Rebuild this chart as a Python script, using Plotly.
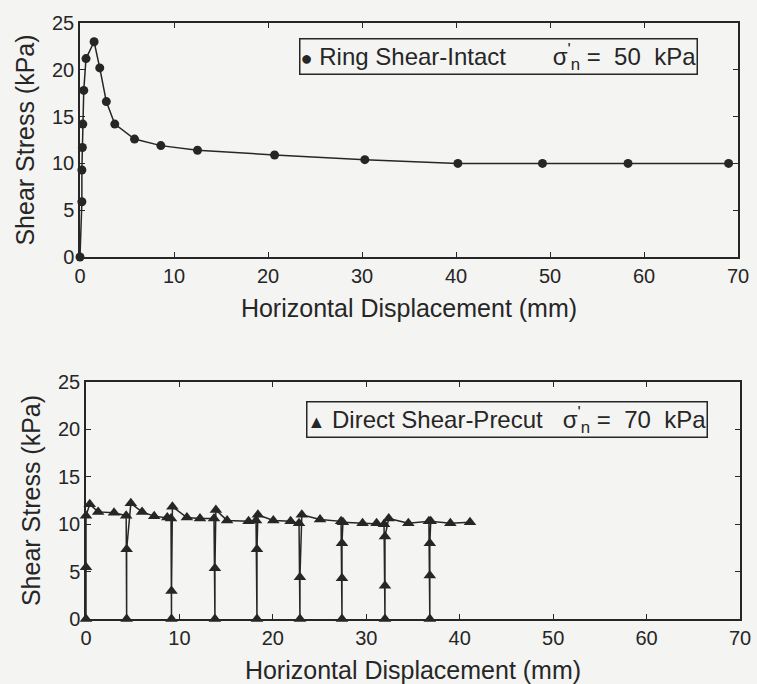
import plotly.graph_objects as go

# ---- data ----
ring_x = [0, 0.2, 0.2, 0.25, 0.3, 0.4, 0.64, 1.5, 2.1, 2.8, 3.7, 5.8, 8.6, 12.5, 20.7, 30.3, 40.2, 49.2, 58.3, 69.0]
ring_y = [0, 5.9, 9.3, 11.7, 14.2, 17.8, 21.2, 23.0, 20.2, 16.6, 14.2, 12.6, 11.9, 11.4, 10.9, 10.4, 10.0, 10.0, 10.0, 10.0]

ds_x = [0, 0, 0, 0.4, 1.3, 3.0, 4.3,
        4.35, 4.35, 4.8, 6.0, 7.3, 8.7, 9.1,
        9.15, 9.15, 9.25, 10.8, 12.2, 13.7,
        13.8, 13.8, 13.9, 15.1, 17.4, 18.2,
        18.3, 18.3, 18.4, 20.05, 21.9, 22.8,
        22.9, 22.9, 23.1, 25.05, 27.3,
        27.4, 27.4, 27.4, 27.5, 29.6, 31.1, 31.9,
        32.0, 32.0, 32.0, 32.4, 34.5, 36.7,
        36.8, 36.8, 36.8, 36.9, 39.0, 41.1]
ds_y = [0, 5.45, 10.9, 12.1, 11.3, 11.2, 10.9,
        0, 7.35, 12.2, 11.3, 10.85, 10.7, 10.6,
        0, 2.95, 11.85, 10.7, 10.6, 10.6,
        0, 5.35, 11.5, 10.4, 10.3, 10.4,
        0, 7.35, 11.0, 10.4, 10.3, 10.1,
        0, 4.4, 11.0, 10.5, 10.3,
        0, 4.3, 8.0, 10.2, 10.1, 10.1, 10.0,
        0, 3.5, 8.7, 10.6, 10.1, 10.3,
        0, 4.6, 8.0, 10.3, 10.1, 10.2]

x_ticks = [0, 10, 20, 30, 40, 50, 60, 70]
y_ticks = [0, 5, 10, 15, 20, 25]

ring_label = "Ring Shear-Intact"
ring_sigma = "50 kPa"
ds_label = "Direct Shear-Precut"
ds_sigma = "70 kPa"

x_title = "Horizontal Displacement (mm)"
y_title = "Shear Stress (kPa)"

INK = "#262626"
BG = "#f4f4f2"
FONT = "Liberation Sans, Arial, Helvetica, sans-serif"

fig = go.Figure()
fig.add_trace(go.Scatter(
    x=ring_x, y=ring_y, mode="lines+markers", name=ring_label,
    line=dict(color=INK, width=1.5),
    marker=dict(symbol="circle", size=9, color=INK),
    xaxis="x", yaxis="y", showlegend=False, cliponaxis=False))
fig.add_trace(go.Scatter(
    x=ds_x, y=ds_y, mode="lines+markers", name=ds_label,
    line=dict(color=INK, width=1.5),
    marker=dict(symbol="triangle-up", size=11, color=INK),
    xaxis="x2", yaxis="y2", showlegend=False, cliponaxis=False))

W, H = 757, 684
ML, MR, MT, MB = 80, 17, 23, 65
PW, PH = W - ML - MR, H - MT - MB

def px_x(p):
    return (p - ML) / PW

def px_y(p):
    return (H - MB - p) / PH

axis_common = dict(
    showline=True, linecolor=INK, linewidth=1.5, mirror="ticks",
    ticks="inside", ticklen=5, tickwidth=1.2, tickcolor=INK,
    showgrid=False, zeroline=False, automargin=False,
    tickfont=dict(family=FONT, size=20, color=INK),
)

fig.update_layout(
    width=W, height=H,
    margin=dict(l=ML, r=MR, t=MT, b=MB, autoexpand=False),
    paper_bgcolor=BG, plot_bgcolor=BG,
    font=dict(family=FONT, color=INK),
    showlegend=False,
    xaxis=dict(domain=[0, px_x(738)], anchor="y", range=[0, 70], tickvals=x_ticks,
               title=dict(text=x_title, font=dict(size=25, family=FONT, color=INK), standoff=14),
               **axis_common),
    yaxis=dict(domain=[px_y(257), 1], anchor="x", range=[0, 25], tickvals=y_ticks,
               title=dict(text=y_title, font=dict(size=25, family=FONT, color=INK), standoff=10),
               **axis_common),
    xaxis2=dict(domain=[px_x(86), 1], anchor="y2", range=[0, 70], tickvals=x_ticks,
                title=dict(text=x_title, font=dict(size=25, family=FONT, color=INK), standoff=21),
                **axis_common),
    yaxis2=dict(domain=[0, px_y(382)], anchor="x2", range=[0, 25], tickvals=y_ticks,
                title=dict(text=y_title, font=dict(size=25, family=FONT, color=INK), standoff=10),
                **axis_common),
)

NB = "\u00a0"
sigma = "σ<sup>'</sup><sub>n</sub>"
top_text = ('<span style="font-size:20px">●</span>' + NB + ring_label + NB * 7 +
            sigma + NB + "=" + NB * 2 + ring_sigma.replace(" ", NB * 2))
bot_text = ('<span style="font-size:18px">▲</span>' + NB + ds_label + NB * 3 +
            sigma + NB + "=" + NB * 2 + ds_sigma.replace(" ", NB * 2))

fig.add_annotation(xref="paper", yref="paper", x=px_x(698), y=px_y(38),
                   xanchor="right", yanchor="top", text=top_text, showarrow=False,
                   font=dict(family=FONT, size=24, color=INK),
                   bordercolor=INK, borderwidth=1.5, borderpad=0, bgcolor=BG)
fig.add_annotation(xref="paper", yref="paper", x=px_x(708), y=px_y(401),
                   xanchor="right", yanchor="top", text=bot_text, showarrow=False,
                   font=dict(family=FONT, size=24, color=INK),
                   bordercolor=INK, borderwidth=1.5, borderpad=0, bgcolor=BG)

fig.write_html(
    "out.html",
    config={"displayModeBar": False},
    post_script="document.body.style.margin='0';document.body.style.background='%s';" % BG,
)
